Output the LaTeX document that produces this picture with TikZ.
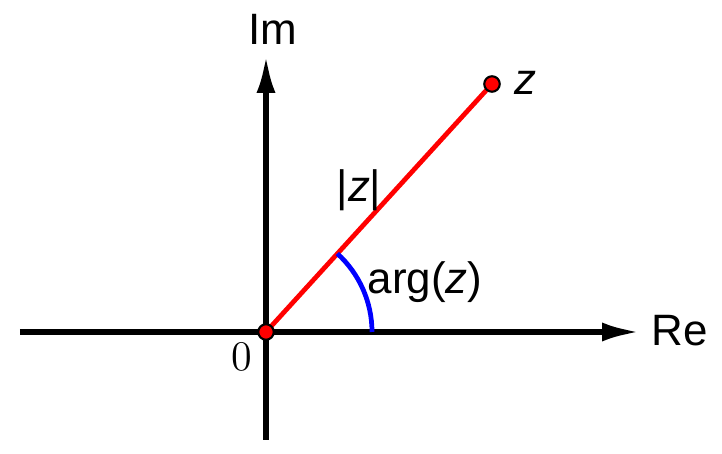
\documentclass[tikz,border=0pt]{standalone}
\usepackage{fontspec}
\setsansfont{Liberation Sans}
\usetikzlibrary{arrows.meta}

\begin{document}
\begin{tikzpicture}

\tikzset{axis/.style = {line width=1.6pt,-{Latex[length=3.8mm,width=1.9mm]}}}
\tikzset{dot/.style = {shape=circle,draw,fill=red,line width=0.6pt,inner sep=0pt,minimum size=1.55mm}}
\tikzset{lbl/.style = {font=\sffamily\fontsize{12.5}{14}\selectfont}}
\useasboundingbox (-2.66,-1.22) rectangle (4.56,3.32);
% axes
\coordinate (xl) at (-2.46,0);
\coordinate (xr) at (3.74,0);
\coordinate (yb) at (0,-1.08);
\coordinate (yt) at (0,2.77);
\draw[axis] (xl) -- (xr);
\draw[axis] (yb) -- (yt);
% points
\coordinate (o) at (0,0);
\coordinate (z) at (2.26,2.48);
\draw[red,line width=1.35pt] (o) -- (z);
\draw[blue,line width=1.35pt] (o) ++(1.06,0) arc[start angle=0,end angle=47.7,radius=1.06];
\node[dot] (od) at (o) {};
\node[dot] (zd) at (z) {};
% labels
\node[lbl] (re) at (4.14,0.01) {Re};
\node[lbl] (im) at (0.07,3.03) {Im};
\node[lbl] (zl) at (2.59,2.49) {\itshape z};
\node[lbl] (mod) at (0.93,1.42) {|\textit{z}|};
\node[lbl] (arg) at (1.59,0.50) {arg(\textit{z})};
\node[font=\rmfamily\fontsize{12}{14}\selectfont] (zero) at (-0.24,-0.25) {0};
\end{tikzpicture}
\end{document}
